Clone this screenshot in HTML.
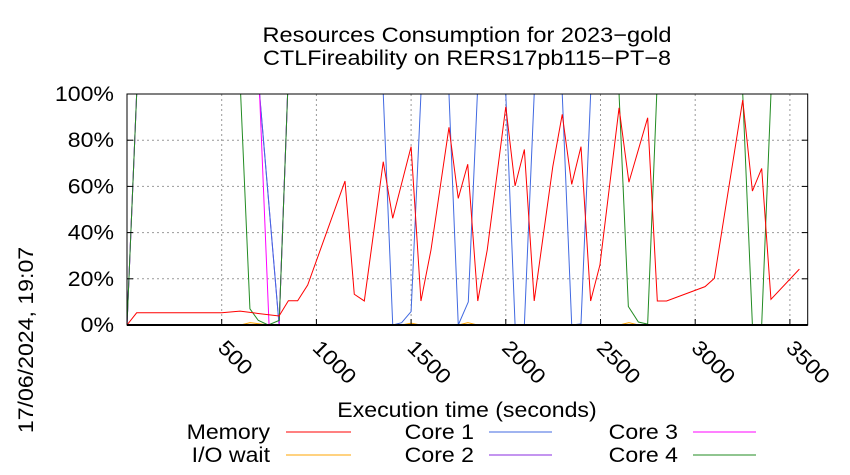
<!DOCTYPE html>
<html><head><meta charset="utf-8"><style>
body{margin:0;background:#fff}
svg{display:block;font-family:"Liberation Sans",sans-serif}
</style></head><body>
<svg id="chart" width="850" height="475" viewBox="0 0 850 475">
<text class="w" x="467" y="42" font-size="21" text-anchor="middle" textLength="409" lengthAdjust="spacingAndGlyphs">Resources Consumption for 2023−gold</text>
<text class="w" x="467" y="65" font-size="21" text-anchor="middle" textLength="408" lengthAdjust="spacingAndGlyphs">CTLFireability on RERS17pb115−PT−8</text>
<text class="s" transform="translate(33,340) rotate(-90)" font-size="21" text-anchor="middle">17/06/2024, 19:07</text>
<text class="s" x="467" y="417" font-size="21" text-anchor="middle">Execution time (seconds)</text>
<g id="grid"></g><g id="series"></g><g id="axes"></g><g id="legend"></g>
</svg>
<script>
const xTicks=[500,1000,1500,2000,2500,3000,3500];
const yTicks=[0,20,40,60,80,100];
const memT=[0,51,500,597,692,803,852,901,954,1151,1200,1253,1353,1403,1500,1552,1605,1700,1749,1799,1852,1902,2000,2049,2098,2150,2248,2298,2348,2397,2448,2497,2598,2650,2749,2800,2849,3052,3101,3251,3302,3351,3400,3550];
const memV=[0,5.3,5.3,6,5,3.9,10.5,10.5,17.3,62.3,13.3,10.4,70.7,46.2,77.2,10.4,32.5,85.6,54.8,69.6,10.4,32.5,94.5,60.2,76,10.4,68.5,91.2,60.9,77.2,10.4,26,94,61.8,89.7,10.4,10.4,16.6,20.2,97.4,58,67.8,11.1,24.2];
const ioT=[0,600,650,700,750,1450,1500,1550,1750,1800,1850,2600,2650,2700,3594];
const ioV=[0,0,1,0.5,0,0,0.8,0,0,1,0,0,1,0,0];
const c1T=[0,51,700,803,848,1353,1403,1450,1500,1552,1700,1749,1802,1850,2000,2049,2098,2150,2298,2348,2397,2448,3594];
const c1V=[0,100,100,0,100,100,0,1,5.8,100,100,0,10,100,100,0,0,100,100,0,0.5,100,100];
const c2T=[0,51,700,803,848,3594];
const c2V=[0,100,100,0,100,100];
const c3T=[0,51,700,750,803,848,3594];
const c3V=[0,100,100,0,0,100,100];
const c4T=[0,51,600,649,693,746,804,848,2598,2647,2700,2749,2797,3251,3302,3351,3400,3594];
const c4V=[0,100,100,7,2,0,2,100,100,8,1.3,0.4,100,100,0,0,100,100];
const X0=127,X1=807.7,TMAX=3594,Y0=325,Y1=94;
const sx=t=>X0+(t/TMAX)*(X1-X0);
const sy=v=>Y0-(v/100)*(Y0-Y1);
const NS="http://www.w3.org/2000/svg";
function mk(tag,attrs,parent){const e=document.createElementNS(NS,tag);for(const k in attrs)e.setAttribute(k,attrs[k]);parent.appendChild(e);return e;}
const grid=document.getElementById('grid'),series=document.getElementById('series'),axes=document.getElementById('axes'),legend=document.getElementById('legend');
yTicks.forEach(v=>{
 if(v>0&&v<100){const g=mk('line',{x1:X0,x2:X1,y1:sy(v),y2:sy(v),stroke:'#999','stroke-dasharray':'2,3','stroke-width':1},grid);
 
 }
 const t=mk('text',{x:114,y:sy(v)+7,'font-size':21,'text-anchor':'end','class':'s'},axes);t.textContent=v+'%';
 
 
 mk('line',{x1:X0,x2:X0+6,y1:sy(v),y2:sy(v),stroke:'#000'},axes);
 mk('line',{x1:X1,x2:X1-6,y1:sy(v),y2:sy(v),stroke:'#000'},axes);
});
xTicks.forEach(v=>{
 const x=sx(v);
 if(x<X1-2){const g=mk('line',{x1:x,x2:x,y1:Y1,y2:Y0,stroke:'#999','stroke-dasharray':'2,3','stroke-width':1},grid);
 
 
 mk('line',{x1:x,x2:x,y1:Y0,y2:Y0-6,stroke:'#000'},axes);}
 const t=mk('text',{transform:`translate(${x-5},${Y0+24}) rotate(45)`,'font-size':21,'class':'s'},axes);t.textContent=v;
 
 
});
function draw(T,V,color,name){
 const p=mk('polyline',{points:T.map((t,i)=>sx(t)+','+sy(V[i])).join(' '),fill:'none',stroke:color,'stroke-width':1},series);
 
 
}
draw(c2T,c2V,'#8a2be2','core2-line');
draw(c1T,c1V,'#4169e1','core1-line');
draw(c3T,c3V,'#ff00ff','core3-line');
draw(c4T,c4V,'#228b22','core4-line');
draw(ioT,ioV,'#ffa500','io-wait-line');
draw(memT,memV,'#ff0000','memory-line');
const fr=mk('rect',{x:X0,y:Y1,width:X1-X0,height:Y0-Y1,fill:'none',stroke:'#000','stroke-width':1},axes);


mk('line',{x1:X0,x2:X1,y1:Y0,y2:Y0,stroke:'#000','stroke-width':2},axes);
const leg=[['Memory','#ff0000',270,286,351,432],['I/O wait','#ffa500',270,286,351,455],['Core 1','#4169e1',474,489,552,432],['Core 2','#8a2be2',474,489,552,455],['Core 3','#ff00ff',678,693,756,432],['Core 4','#228b22',678,693,756,455]];
leg.forEach(l=>{
 const t=mk('text',{x:l[2],y:l[5]+7,'font-size':21,'text-anchor':'end','class':'s'},legend);t.textContent=l[0];
 
 
 const s=mk('line',{x1:l[3],x2:l[4],y1:l[5],y2:l[5],stroke:l[1],'stroke-width':1},legend);
 
 
});
document.querySelectorAll('text.s').forEach(t=>{
 const w=t.getComputedTextLength();
 t.setAttribute('textLength',(w*1.1).toFixed(1));
 t.setAttribute('lengthAdjust','spacingAndGlyphs');
});
</script>
</body></html>
